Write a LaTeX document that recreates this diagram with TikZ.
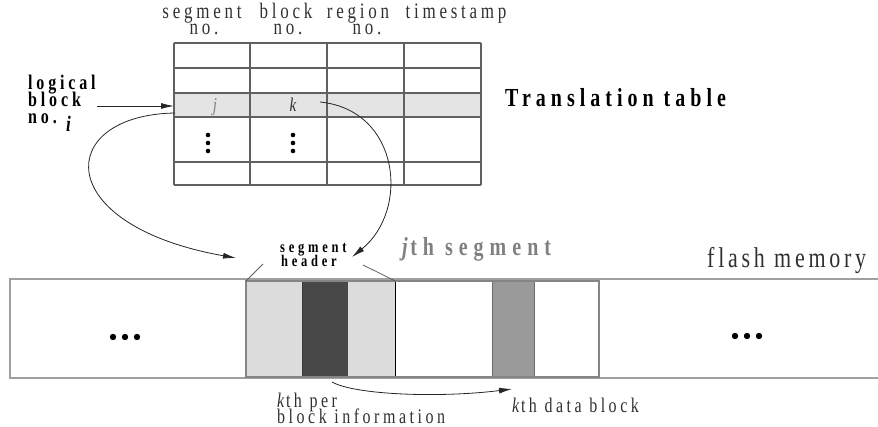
\documentclass[tikz,border=0pt]{standalone}
\usepackage{fontspec}
\usepackage{graphicx}
\setmainfont{Liberation Serif}
\usetikzlibrary{arrows.meta}

% tall, tracked lettering
\newcommand\vs[1]{\scalebox{1}[1.3]{#1}}
\newcommand\trk[2]{{\addfontfeatures{LetterSpace=#1}#2}}

\definecolor{rule}{HTML}{606060}
\definecolor{rowfill}{HTML}{E4E4E4}
\definecolor{hdrfill}{HTML}{DCDCDC}
\definecolor{pbfill}{HTML}{484848}
\definecolor{dbfill}{HTML}{9A9A9A}
\definecolor{segrule}{HTML}{858585}
\definecolor{flashrule}{HTML}{A0A0A0}
\definecolor{softtext}{HTML}{808080}
\definecolor{inktext}{HTML}{303030}

\begin{document}
\begin{tikzpicture}[x=1pt,y=-1pt,
  tx/.style={inner sep=0pt, anchor=base},
  txw/.style={inner sep=0pt, anchor=base west},
  hdr/.style={tx, font=\fontsize{17}{17}\selectfont, text=inktext},
  lbl/.style={txw, font=\fontsize{16}{16}\selectfont\bfseries},
  hline/.style={draw=rule, line width=1.2pt},
  vline/.style={draw=rule, line width=1.7pt},
  arr/.style={-{Latex[length=13pt,width=6pt]}, line width=0.8pt, draw=black!85},
  blk/.style={inner sep=0pt, anchor=north west, minimum height=96pt},
  dot/.style={fill=black}]
\useasboundingbox (0,0) rectangle (878,427);

% ---- translation table ----
\fill[rowfill] (174,93) rectangle (481,117);
\foreach \yy in {43,68,93,117,162,185}
  \draw[hline] (174,\yy) -- (481,\yy);
\foreach \xx in {174,250,327,404,481}
  \draw[vline] (\xx,43) -- (\xx,185);

% column headings
\node[hdr] (hseg)   at (202,19) {\vs{\trk{22}{segment}}};
\node[hdr] (hsegn)  at (204,35) {\vs{\trk{22}{no.}}};
\node[hdr] (hblk)   at (286,19) {\vs{\trk{22}{block}}};
\node[hdr] (hblkn)  at (288,35) {\vs{\trk{22}{no.}}};
\node[hdr] (hreg)   at (358,19) {\vs{\trk{22}{region}}};
\node[hdr] (hregn)  at (367,35) {\vs{\trk{22}{no.}}};
\node[hdr] (hts)    at (456,19) {\vs{\trk{22}{timestamp}}};

% entries of the selected row
\node[tx, font=\fontsize{15}{15}\selectfont\itshape, text=softtext] (cj) at (215,112) {\vs{j}};
\node[tx, font=\fontsize{15}{15}\selectfont\itshape, text=inktext] (ck) at (293,112) {\vs{k}};
\foreach \cx in {208,293}
  \foreach \cy in {135,143,151}
    \fill[dot] (\cx,\cy) circle (2.3);

\node[txw, font=\fontsize{20}{20}\selectfont\bfseries] (ttl) at (505,107) {\vs{\trk{25}{Translation table}}};

% logical block number
\node[lbl] (lg1) at (28,90)  {\vs{\trk{24}{logical}}};
\node[lbl] (lg2) at (28,107) {\vs{\trk{24}{block}}};
\node[lbl] (lg3) at (28,124) {\vs{\trk{24}{no.}}};
\node[txw, font=\fontsize{17}{17}\selectfont\bfseries\itshape] (lgi) at (66,132) {\vs{i}};
\coordinate (rowin) at (174,106);
\coordinate (lgout) at (97,106);
\draw[arr] (lgout) -- (rowin);

% ---- flash memory ----
\draw[flashrule, line width=1.5pt] (880,279) -- (10,279) -- (10,378) -- (880,378);
\node[txw, font=\fontsize{22}{22}\selectfont, text=inktext] (flash) at (707,268) {\vs{\trk{17}{flash memory}}};
\foreach \dx in {113,125,137} \fill[dot] (\dx,337) circle (3.2);
\foreach \dx in {735,747,759} \fill[dot] (\dx,336) circle (3.2);

% j-th segment
\fill[white] (246,281) rectangle (599,377);
\node[blk, fill=hdrfill, minimum width=56pt] (hdA) at (246,281) {};
\node[blk, fill=pbfill, draw=pbfill!80!black, minimum width=46pt] (pbi) at (302,281) {};
\node[blk, fill=hdrfill, minimum width=47pt] (hdB) at (348,281) {};
\node[blk, fill=dbfill, draw=dbfill!70!black, line width=0.6pt, minimum width=42pt] (dblk) at (492,281) {};
\draw[black, line width=1pt] (hdB.north east) -- (hdB.south east);
\draw[segrule, line width=2.6pt] (246,281) rectangle (599,377);

\node[txw, font=\fontsize{20}{20}\selectfont\bfseries, text=softtext] (jseg) at (402,256)
  {\vs{\textit{j}\kern2.5pt\trk{30}{th segment}}};

% segment header label and its leaders
\node[txw, font=\fontsize{12.5}{12.5}\selectfont\bfseries] (sh1) at (280,253) {\vs{\trk{30}{segment}}};
\node[txw, font=\fontsize{12.5}{12.5}\selectfont\bfseries] (sh2) at (281,267) {\vs{\trk{30}{header}}};
\draw[rule, line width=0.8pt] (hdA.north west) -- (263,264);
\draw[rule, line width=0.8pt] (hdB.north east) -- (363,265);

% table -> segment
\coordinate (jout) at (175,113);
\coordinate (kout) at (320,102);
\coordinate (hdrL) at (236,258);
\coordinate (hdrR) at (352,257);
\draw[arr] (jout) .. controls (55,115) and (50,225) .. (hdrL);
\draw[arr] (kout) .. controls (400,110) and (410,210) .. (hdrR);

% per-block information -> data block
\coordinate (pbout) at (332,382);
\coordinate (dbin) at (512,389);
\draw[arr] (pbout) .. controls (355,395) and (440,398) .. (dbin);

\node[txw, font=\fontsize{16}{16}\selectfont, text=inktext] (kp1) at (277,407) {\vs{\textit{k}\kern1.5pt\trk{22}{th per}}};
\node[txw, font=\fontsize{16}{16}\selectfont, text=inktext] (kp2) at (277,424) {\vs{\trk{22}{block information}}};
\node[txw, font=\fontsize{16}{16}\selectfont, text=inktext] (kdb) at (512,413) {\vs{\textit{k}\kern1.5pt\trk{22}{th data block}}};
\end{tikzpicture}
\end{document}
